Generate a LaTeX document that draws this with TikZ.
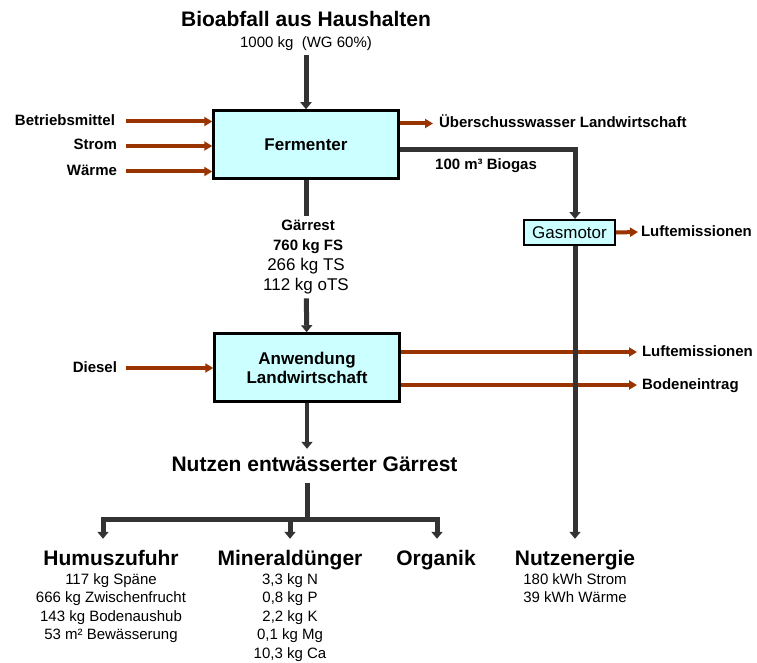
\documentclass[tikz,border=0pt]{standalone}
\usepackage{fontspec}
\setmainfont{Liberation Sans}
\usetikzlibrary{positioning,arrows.meta}
\definecolor{flowgray}{HTML}{333333}
\definecolor{rust}{HTML}{993300}
\definecolor{boxcyan}{HTML}{CCFFFF}
\newcommand{\setfs}[2]{\fontsize{#1}{#2}\selectfont}
\tikzset{%
  process/.style={
    draw=black,
    line width=2.5pt,
    fill=boxcyan,
    minimum width=185pt,
    minimum height=68pt,
    align=center,
    font=\bfseries\setfs{17}{19}
  },
  machine/.style={
    draw=black,
    line width=2pt,
    fill=boxcyan,
    minimum width=91pt,
    minimum height=25pt,
    inner sep=1pt,
    font=\setfs{17}{19}
  },
}

\begin{document}
\begin{tikzpicture}[x=1pt,y=-1pt]
      \tikzstyle{flow}=[draw=flowgray,line width=5pt,-{Triangle[length=7pt,width=11pt]}]
      \tikzstyle{flowline}=[draw=flowgray,line width=5pt]
      \tikzstyle{feed}=[draw=rust,line width=4pt,-{Triangle[length=8pt,width=9pt]}]
      \tikzstyle{lbl}=[font=\bfseries\setfs{15}{18},inner sep=2pt,text height=11pt,text depth=3pt]
      \tikzstyle{note}=[font=\setfs{15}{18},inner xsep=2pt,inner ysep=4pt]
      \tikzstyle{titel}=[font=\bfseries\setfs{21}{24},inner xsep=2pt,text height=15pt,text depth=4.5pt]
      \tikzstyle{liste}=[font=\setfs{15}{18.5},align=center,inner sep=1pt]

      \useasboundingbox (0,0) rectangle (757,663);

      % Fermenter
      \node[titel,anchor=base] (bio) at (306,27) {Bioabfall aus Haushalten};
      \node[note,anchor=base] (menge) at (306,48) {1000 kg\ \ (WG 60\%)};
      \node[process] (ferm) at (306,144.5) {Fermenter};
      \draw[flow] (menge) -- (ferm);

      \node[lbl,anchor=east,outer xsep=9pt] (betr) at (126,121.5) {Betriebsmittel};
      \node[lbl,anchor=east,outer xsep=7pt] (strom) at (126,146) {Strom};
      \node[lbl,anchor=east,outer xsep=7pt] (waerme) at (126,171.5) {Wärme};
      \draw[feed] (betr.east) -- (betr.east -| ferm.west);
      \draw[feed] (strom.east) -- (strom.east -| ferm.west);
      \draw[feed] (waerme.east) -- (waerme.east -| ferm.west);

      \node[lbl,anchor=west,outer xsep=4pt] (ueber) at (433,123.5) {Überschusswasser Landwirtschaft};
      \draw[feed] (ueber.west -| ferm.east) -- (ueber.west);

      % Biogas
      \coordinate (knick) at (575,149.5);
      \node[machine] (gas) at (569.5,232.5) {Gasmotor};
      \draw[flow] (ferm.east |- knick) -| (gas.north -| knick);
      \node[lbl,anchor=base west] (biogas) at (433,170) {100 m³ Biogas};
      \node[lbl,anchor=west,outer xsep=1pt] (luft1) at (638,232) {Luftemissionen};
      \draw[feed] (gas.east) -- (luft1.west);

      % Anwendung
      \node[font=\setfs{17}{20},align=center,inner ysep=4pt,anchor=north] (gaer) at (306,216)
        {{\bfseries\setfs{15}{20} Gärrest}\\{\bfseries\setfs{15}{20} 760 kg FS}\\266 kg TS\\112 kg oTS};
      \node[process] (anw) at (307,367.5) {Anwendung\\Landwirtschaft};
      \draw[flowline] (ferm) -- (gaer);
      \draw[flow] (gaer) -- (anw);

      \node[lbl,anchor=east,outer xsep=7pt] (diesel) at (126,368) {Diesel};
      \draw[feed] (diesel.east) -- (diesel.east -| anw.west);

      \node[lbl,anchor=west,outer xsep=3pt] (luft2) at (637,352) {Luftemissionen};
      \node[lbl,anchor=west,outer xsep=3pt] (boden) at (637,385) {Bodeneintrag};
      \draw[feed] (luft2.west -| anw.east) -- (luft2.west);
      \draw[feed] (boden.west -| anw.east) -- (boden.west);

      % Nutzen
      \node[titel,anchor=base,inner ysep=7pt] (nutzgr) at (314.5,471) {Nutzen entwässerter Gärrest};
      \draw[flow,line width=4pt] (anw.south) -- (anw.south |- nutzgr.north);
      \coordinate (gabel) at (307,519.5);
      \draw[flowline] (nutzgr.south -| gabel) -- (gabel);

      \node[titel,anchor=base,inner ysep=11pt] (humus) at (111,565) {Humuszufuhr};
      \node[titel,anchor=base,inner ysep=11pt] (mineral) at (290,565) {Mineraldünger};
      \node[titel,anchor=base,inner ysep=11pt] (organik) at (436,565) {Organik};
      \node[titel,anchor=base,inner ysep=11pt] (nutzen) at (575,565) {Nutzenergie};

      \draw[flow] (gabel) -| ([xshift=-8pt]humus.north);
      \draw[flow] (gabel) -| (mineral.north);
      \draw[flow] (gabel) -| ([xshift=1pt]organik.north);
      \draw[flow] (gas.south -| knick) -- (nutzen.north);

      \node[liste,anchor=north] (humusl) at (111,572)
        {117 kg Späne\\666 kg Zwischenfrucht\\143 kg Bodenaushub\\53 m² Bewässerung};
      \node[liste,anchor=north] (minerall) at (290,572)
        {3,3 kg N\\0,8 kg P\\2,2 kg K\\0,1 kg Mg\\10,3 kg Ca};
      \node[liste,anchor=north] (nutzenl) at (575,572)
        {180 kWh Strom\\39 kWh Wärme};
  \end{tikzpicture}
\end{document}
